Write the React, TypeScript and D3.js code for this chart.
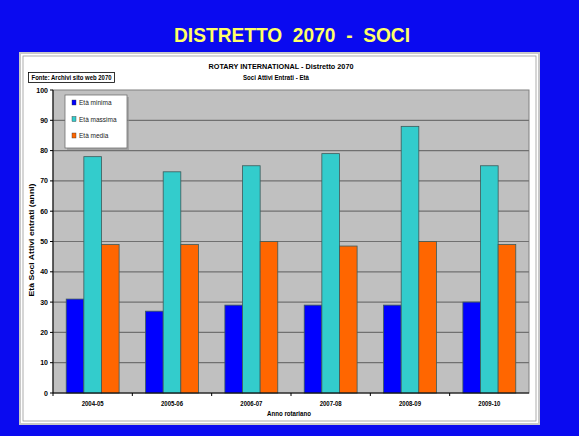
import React from "react";
import * as d3 from "d3";

const categories = ["2004-05", "2005-06", "2006-07", "2007-08", "2008-09", "2009-10"];
const seriesNames = ["Età minima", "Età massima", "Età media"];
const etaMinima = [31, 27, 29, 29, 29, 30];
const etaMassima = [78, 73, 75, 79, 88, 75];
const etaMedia = [49, 49, 50, 48.5, 50, 49];
const yTicks = [0, 10, 20, 30, 40, 50, 60, 70, 80, 90, 100];
const colors = ["#0000ff", "#33cccc", "#ff6600"];

export default function App() {
  const W = 579, H = 436;
  const plot = { left: 53, right: 529, top: 90, bottom: 393 };
  const y = d3.scaleLinear().domain([0, 100]).range([plot.bottom, plot.top]);
  const x0 = d3.scaleBand().domain(categories).range([plot.left, plot.right]).paddingInner(0).paddingOuter(0);
  const bw = x0.bandwidth() / 4.5;
  const x1 = d3.scaleBand().domain(seriesNames).range([0, bw * 3]);
  const series = [etaMinima, etaMassima, etaMedia];
  const narrow = "'Liberation Sans Narrow', 'Arial Narrow', 'Liberation Sans', Arial, sans-serif";
  return (
    <svg width={W} height={H} style={{ position: "absolute", left: 0, top: 0, display: "block" }}>
      <rect x={0} y={0} width={W} height={H} fill="#0a0af0" />
      <text x={292} y={42} textAnchor="middle" fill="#ffff66" fontFamily="Arial, 'Liberation Sans', sans-serif" fontSize={20} fontWeight="bold" style={{ whiteSpace: "pre" }} textLength={236} lengthAdjust="spacingAndGlyphs">{"DISTRETTO  2070  -  SOCI"}</text>
      {/* panel */}
      <rect x={20} y={53} width={519} height={371} fill="#ffffff" stroke="#c8c8c8" strokeWidth={2} />
      <rect x={23} y={56} width={513} height={365} fill="none" stroke="#9a9a9a" strokeWidth={0.8} />
      <text x={281} y={69} textAnchor="middle" fontFamily={narrow} fontWeight="bold" fontSize={7.5} textLength={145} lengthAdjust="spacingAndGlyphs">ROTARY INTERNATIONAL - Distretto 2070</text>
      <text x={276} y={80} textAnchor="middle" fontFamily={narrow} fontWeight="bold" fontSize={7.5} textLength={66} lengthAdjust="spacingAndGlyphs">Soci Attivi Entrati - Età</text>
      <rect x={28.5} y={72.5} width={86} height={10} fill="#ffffff" stroke="#000" strokeWidth={0.8} />
      <text x={71.5} y={80} textAnchor="middle" fontFamily={narrow} fontWeight="bold" fontSize={6.5} textLength={80} lengthAdjust="spacingAndGlyphs">Fonte: Archivi sito web 2070</text>
      {/* plot area */}
      <rect x={plot.left} y={plot.top} width={plot.right - plot.left} height={plot.bottom - plot.top} fill="#c0c0c0" stroke="#808080" strokeWidth={1} />
      {yTicks.filter((t) => t > 0 && t < 100).map((t) => (
        <line key={t} x1={plot.left} x2={plot.right} y1={y(t)} y2={y(t)} stroke="#707070" strokeWidth={1.2} />
      ))}
      {/* bars */}
      {categories.map((c, i) => (
        <g key={c} transform={`translate(${(x0(c) as number) + (x0.bandwidth() - bw * 3) / 2},0)`}>
          {series.map((s, k) => (
            <rect key={k} x={x1(seriesNames[k]) as number} y={y(s[i])} width={x1.bandwidth()} height={plot.bottom - y(s[i])} fill={colors[k]} stroke="#3c5a5a" strokeWidth={0.8} />
          ))}
        </g>
      ))}
      {/* axes */}
      <line x1={plot.left} x2={plot.left} y1={plot.top} y2={plot.bottom} stroke="#000" strokeWidth={1} />
      <line x1={plot.left} x2={plot.right} y1={plot.bottom} y2={plot.bottom} stroke="#000" strokeWidth={1} />
      {yTicks.map((t) => (
        <g key={t}>
          <line x1={plot.left - 3} x2={plot.left} y1={y(t)} y2={y(t)} stroke="#000" />
          <text x={48} y={y(t) + 2.5} textAnchor="end" fontFamily={narrow} fontWeight="bold" fontSize={7}>{t}</text>
        </g>
      ))}
      {categories.map((c, i) => (
        <g key={c}>
          <line x1={x0(c) as number} x2={x0(c) as number} y1={plot.bottom} y2={plot.bottom + 3} stroke="#000" />
          <text x={(x0(c) as number) + x0.bandwidth() / 2} y={406} textAnchor="middle" fontFamily={narrow} fontWeight="bold" fontSize={7} textLength={22} lengthAdjust="spacingAndGlyphs">{c}</text>
        </g>
      ))}
      <text x={289} y={416} textAnchor="middle" fontFamily={narrow} fontWeight="bold" fontSize={7} textLength={44} lengthAdjust="spacingAndGlyphs">Anno rotariano</text>
      <text transform={`translate(34,240) rotate(-90)`} textAnchor="middle" fontFamily="Arial, 'Liberation Sans', sans-serif" fontWeight="bold" fontSize={7.5} textLength={113} lengthAdjust="spacingAndGlyphs">Età Soci Attivi entrati (anni)</text>
      {/* legend */}
      <rect x={67} y={97} width={62} height={53} fill="#909090" opacity={0.6} />
      <rect x={65} y={95} width={62} height={53} fill="#ffffff" stroke="#707070" strokeWidth={0.8} />
      {seriesNames.map((n, k) => (
        <g key={n}>
          <rect x={72} y={100 + k * 16.5} width={4} height={5} fill={colors[k]} stroke="#333" strokeWidth={0.4} />
          <text x={79} y={105 + k * 16.5} fontFamily="Arial, 'Liberation Sans', sans-serif" fontSize={6.5} fill="#222">{n}</text>
        </g>
      ))}
    </svg>
  );
}
